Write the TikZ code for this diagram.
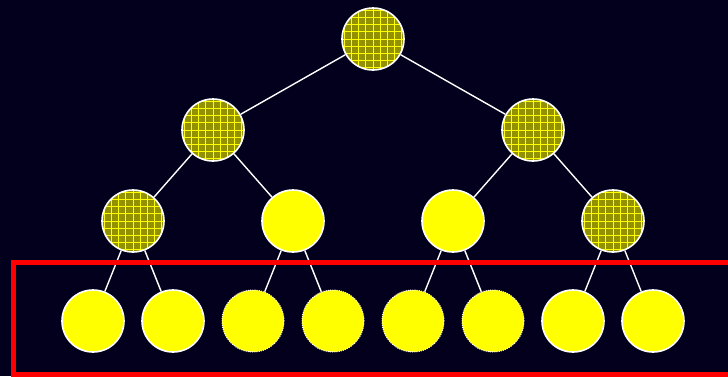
\documentclass[tikz,border=0pt]{standalone}
\usepackage{tikz}
\definecolor{bgnavy}{RGB}{2,0,28}
\definecolor{olivefill}{RGB}{146,146,0}
\definecolor{leafyellow}{RGB}{255,255,0}
\definecolor{frame}{RGB}{255,0,0}
\definecolor{edgewhite}{RGB}{255,255,255}
\tikzset{
  vtx/.style={circle, minimum size=62pt, inner sep=0pt, fill=leafyellow, draw=edgewhite, line width=1.6pt},
  gridvtx/.style={vtx, path picture={
      \fill[olivefill] (path picture bounding box.south west) rectangle (path picture bounding box.north east);
      \draw[leafyellow, line width=0.7pt, step=7.2pt] (path picture bounding box.south west) grid (path picture bounding box.north east);
    }},
  dotvtx/.style={vtx, line width=1pt, dash pattern=on 1pt off 1.2pt},
  link/.style={draw=edgewhite, line width=1.4pt},
}
\begin{document}
\begin{tikzpicture}[x=1pt,y=-1pt]
  \useasboundingbox (0,0) rectangle (728,376);
  \clip (0,0) rectangle (728,376);
  \fill[bgnavy] (0,0) rectangle (728,376);

  % tree nodes, level by level
  \node[gridvtx] (r)   at (373,39)  {};
  \node[gridvtx] (a)   at (213,130) {};
  \node[gridvtx] (b)   at (533,130) {};
  \node[gridvtx] (aa)  at (133,221) {};
  \node[vtx]     (ab)  at (293,221) {};
  \node[vtx]     (ba)  at (453,221) {};
  \node[gridvtx] (bb)  at (613,221) {};
  \node[vtx]     (l1)  at (93,321)  {};
  \node[vtx]     (l2)  at (173,321) {};
  \node[dotvtx]  (l3)  at (253,321) {};
  \node[dotvtx]  (l4)  at (333,321) {};
  \node[dotvtx]  (l5)  at (413,321) {};
  \node[dotvtx]  (l6)  at (493,321) {};
  \node[vtx]     (l7)  at (573,321) {};
  \node[vtx]     (l8)  at (653,321) {};

  % edges between parents and children
  \path[link] (r) -- (a);
  \path[link] (r) -- (b);
  \path[link] (a) -- (aa);
  \path[link] (a) -- (ab);
  \path[link] (b) -- (ba);
  \path[link] (b) -- (bb);
  \path[link] (aa) -- (l1);
  \path[link] (aa) -- (l2);
  \path[link] (ab) -- (l3);
  \path[link] (ab) -- (l4);
  \path[link] (ba) -- (l5);
  \path[link] (ba) -- (l6);
  \path[link] (bb) -- (l7);
  \path[link] (bb) -- (l8);

  % frame around the bottom level
  \draw[frame, line width=5pt] (13.5,262.7) rectangle (735,374);
\end{tikzpicture}
\end{document}
